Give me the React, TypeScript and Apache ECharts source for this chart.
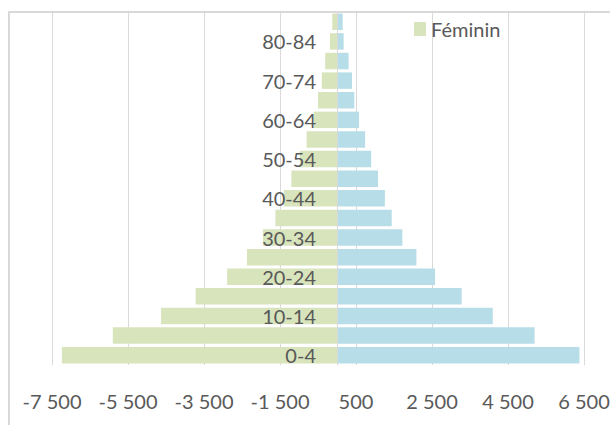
import React, { useEffect, useRef } from "react";
import * as echarts from "echarts";

const ageGroups = [
  "0-4", "5-9", "10-14", "15-19", "20-24", "25-29", "30-34", "35-39", "40-44",
  "45-49", "50-54", "55-59", "60-64", "65-69", "70-74", "75-79", "80-84", "85+",
];
// Féminin drawn on the left (negative side)
const femininValues = [
  -7240, -5900, -4630, -3720, -2890, -2370, -1950, -1620, -1400,
  -1200, -980, -800, -615, -500, -400, -310, -185, -125,
];
const masculinValues = [
  6380, 5200, 4100, 3280, 2580, 2090, 1720, 1440, 1260,
  1080, 900, 740, 580, 455, 395, 305, 175, 150,
];
const xMin = -7500;
const xMax = 6500;
const xStep = 2000;

const FONT = "Lato, 'Open Sans', sans-serif";
const TEXT = "#595959";
const GRID = "#d9d9d9";

const GRID_LEFT = 52;
const GRID_RIGHT = 26;
const CHART_W = 610;

function fmt(v: number): string {
  const s = Math.abs(Math.round(v)).toString();
  const withSep = s.replace(/\B(?=(\d{3})+(?!\d))/g, " ");
  return (v < 0 ? "-" : "") + withSep;
}

export default function App() {
  const ref = useRef<HTMLDivElement>(null);
  useEffect(() => {
    if (!ref.current) return;
    const chart = echarts.init(ref.current, undefined, { renderer: "svg" });
    const plotW = CHART_W - GRID_LEFT - GRID_RIGHT;
    const zeroOffset = ((0 - xMin) / (xMax - xMin)) * plotW;
    chart.setOption({
      animation: false,
      backgroundColor: "#ffffff",
      graphic: [
        {
          type: "rect",
          shape: { x: 9, y: 12, width: 800, height: 600 },
          style: { fill: "none", stroke: GRID, lineWidth: 2 },
          silent: true,
          z: -1,
        },
      ],
      legend: {
        data: ["Féminin"],
        left: 414,
        top: 19,
        padding: 0,
        itemWidth: 12,
        itemHeight: 14,
        icon: "rect",
        textStyle: { fontFamily: FONT, fontSize: 20, color: TEXT },
      },
      grid: {
        left: GRID_LEFT,
        right: GRID_RIGHT,
        top: 12,
        bottom: 60,
        containLabel: false,
        outerBoundsMode: "none",
      },
      xAxis: {
        type: "value",
        min: xMin,
        max: xMax,
        interval: xStep,
        axisLine: { show: false },
        axisTick: { show: false },
        splitLine: { show: true, lineStyle: { color: GRID, width: 1 } },
        axisLabel: {
          margin: 26,
          fontFamily: FONT,
          fontSize: 20,
          color: TEXT,
          formatter: (v: number) => fmt(v),
        },
      },
      yAxis: {
        type: "category",
        data: ageGroups,
        z: 10,
        position: "left",
        offset: -zeroOffset,
        axisLine: { show: true, onZero: false, lineStyle: { color: GRID, width: 1 } },
        axisTick: { show: false },
        axisLabel: {
          interval: 1,
          margin: 21,
          fontFamily: FONT,
          fontSize: 20,
          color: TEXT,
        },
      },
      series: [
        {
          name: "Féminin",
          type: "bar",
          data: femininValues,
          barCategoryGap: "16%",
          barGap: "-100%",
          itemStyle: { color: "#d8e4bc" },
        },
        {
          name: "Masculin",
          type: "bar",
          data: masculinValues,
          barCategoryGap: "16%",
          barGap: "-100%",
          itemStyle: { color: "#b7dee8" },
        },
      ],
    });
    return () => chart.dispose();
  }, []);
  return (
    <div
      ref={ref}
      style={{ position: "absolute", left: 0, top: 0, width: CHART_W, height: 425 }}
    />
  );
}
